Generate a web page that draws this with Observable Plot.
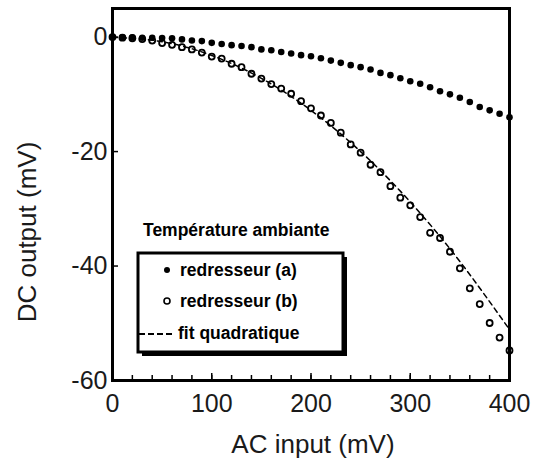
<!DOCTYPE html>
<html>
<head>
<meta charset="utf-8">
<script src="https://cdn.jsdelivr.net/npm/d3@7"></script>
<script src="https://cdn.jsdelivr.net/npm/@observablehq/plot@0.6"></script>
<style>
  html, body { margin: 0; padding: 0; background: #fff; }
</style>
</head>
<body>
<div id="chart"></div>
<script>
// ---- data ----
const acInput = [0,10,20,30,40,50,60,70,80,90,100,110,120,130,140,150,160,170,180,190,200,
                 210,220,230,240,250,260,270,280,290,300,310,320,330,340,350,360,370,380,390,400];
const dcA = [0,-0.05,-0.05,-0.1,-0.1,-0.15,-0.2,-0.4,-0.6,-0.7,-1.0,-1.2,-1.4,-1.55,-1.75,-2.15,-2.3,-2.6,-2.85,-3.15,-3.35,
             -3.7,-4.1,-4.5,-4.9,-5.25,-5.65,-6.25,-6.65,-7.2,-7.7,-8.15,-8.75,-9.45,-10.0,-10.6,-11.35,-12.2,-12.8,-13.4,-14.0];
const dcB = [0,-0.1,-0.2,-0.35,-0.6,-1.05,-1.35,-1.75,-2.15,-2.7,-3.4,-3.75,-4.65,-5.25,-6.4,-7.25,-8.2,-9.0,-9.9,-11.2,-12.45,
             -13.7,-15.0,-16.7,-18.75,-20.2,-22.3,-23.6,-26.05,-28.05,-29.4,-31.45,-34.2,-35.1,-37.5,-40.4,-43.9,-46.65,-49.95,-52.5,-54.75];
const fitInput = [0,50,100,150,200,250,300,350,400];
const fitOutput = [0,-0.8,-3.2,-7.2,-12.8,-20.0,-28.8,-39.2,-51.1];
const xTicks = [0,100,200,300,400];
const xMinorTicks = [0,20,40,60,80,100,120,140,160,180,200,220,240,260,280,300,320,340,360,380,400];
const yTicks = [0,-20,-40,-60];
const legendTitle = "Température ambiante";
const legendLabels = ["redresseur (a)", "redresseur (b)", "fit quadratique"];
const xLabel = "AC input (mV)";
const yLabel = "DC output (mV)";

const seriesA = acInput.map((x, i) => ({x, y: dcA[i]}));
const seriesB = acInput.map((x, i) => ({x, y: dcB[i]}));
const fit = fitInput.map((x, i) => ({x, y: fitOutput[i]}));

const FONT = "'Liberation Sans', Arial, Helvetica, sans-serif";
const W = 535, H = 459, ML = 112, MR = 26, MT = 8, MB = 79;
const frameW = W - ML - MR, frameH = H - MT - MB;

const plot = Plot.plot({
  width: W,
  height: H,
  marginLeft: ML,
  marginRight: MR,
  marginTop: MT,
  marginBottom: MB,
  style: {fontFamily: FONT, background: "white", color: "#1a1a1a"},
  x: {domain: [0, 400]},
  y: {domain: [-60, 5]},
  marks: [
    Plot.line(fit, {x: "x", y: "y", stroke: "black", strokeWidth: 1.5, strokeDasharray: "5,4", curve: "natural"}),
    Plot.dot(seriesB, {x: "x", y: "y", r: 3, stroke: "black", strokeWidth: 1.8, fill: "none"}),
    Plot.dot(seriesA, {x: "x", y: "y", r: 3.3, fill: "black", stroke: "none"}),
    // inward tick marks
    Plot.ruleX(xMinorTicks, {x: d => d, insetTop: frameH - 5, stroke: "black", strokeWidth: 1.5}),
    Plot.ruleX(xTicks, {x: d => d, insetTop: frameH - 7, stroke: "black", strokeWidth: 1.5}),
    Plot.ruleY(yTicks, {y: d => d, insetRight: frameW - 6, stroke: "black", strokeWidth: 1.5}),
    // tick labels
    Plot.axisX(xTicks, {tickSize: 0, tickPadding: 14, fontSize: 25, tickFormat: d => String(d), label: null}),
    Plot.axisY(yTicks, {tickSize: 0, tickPadding: 5, fontSize: 25, tickFormat: d => String(d), label: null}),
    Plot.frame({stroke: "black", strokeWidth: 3})
  ]
});

document.getElementById("chart").appendChild(plot);

const svg = d3.select(plot);

// ---- axis titles ----
svg.append("text")
  .attr("x", 313).attr("y", 453)
  .attr("text-anchor", "middle")
  .attr("font-family", FONT).attr("font-size", 26).attr("fill", "#1a1a1a")
  .text(xLabel);
svg.append("text")
  .attr("transform", "translate(36,232) rotate(-90)")
  .attr("text-anchor", "middle")
  .attr("font-family", FONT).attr("font-size", 26).attr("fill", "#1a1a1a")
  .text(yLabel);

// ---- legend (pixel layout inside the plot area) ----
const lg = svg.append("g")
  .attr("font-family", FONT).attr("font-weight", "bold").attr("font-size", 17.5)
  .attr("fill", "black").attr("text-anchor", "start");
lg.append("text").attr("x", 143).attr("y", 236).attr("text-anchor", "start").text(legendTitle);
lg.append("rect").attr("x", 142).attr("y", 257).attr("width", 205).attr("height", 99).attr("fill", "black");
lg.append("rect").attr("x", 138).attr("y", 253).attr("width", 205).attr("height", 99)
  .attr("fill", "white").attr("stroke", "black").attr("stroke-width", 3);
lg.append("circle").attr("cx", 167).attr("cy", 270).attr("r", 3).attr("fill", "black");
lg.append("text").attr("x", 180).attr("y", 276).attr("text-anchor", "start").text(legendLabels[0]);
lg.append("circle").attr("cx", 167).attr("cy", 301).attr("r", 3).attr("fill", "none").attr("stroke", "black").attr("stroke-width", 1.6);
lg.append("text").attr("x", 180).attr("y", 307).attr("text-anchor", "start").text(legendLabels[1]);
lg.append("line").attr("x1", 139).attr("x2", 173).attr("y1", 334).attr("y2", 334)
  .attr("stroke", "black").attr("stroke-width", 2).attr("stroke-dasharray", "6,3");
lg.append("text").attr("x", 178).attr("y", 339).attr("text-anchor", "start").text(legendLabels[2]);
</script>
</body>
</html>
